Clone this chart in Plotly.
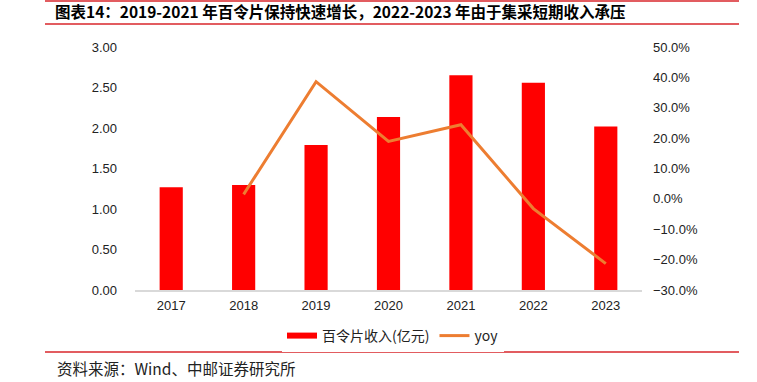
import plotly.graph_objects as go

years = ["2017", "2018", "2019", "2020", "2021", "2022", "2023"]
revenue = [1.27, 1.295, 1.79, 2.135, 2.65, 2.56, 2.02]
yoy = [None, 1.5, 38.6, 18.9, 24.4, -3.2, -21.3]

bar_name = "百令片收入(亿元)"
line_name = "yoy"
title_text = "图表14：2019-2021 年百令片保持快速增长，2022-2023 年由于集采短期收入承压"
source_text = "资料来源：Wind、中邮证券研究所"

W, H = 757, 382
L, R, T, B = 135, 757 - 642, 47, 92
pw, ph = W - L - R, H - T - B

def px_x(px):
    return (px - L) / pw

def px_y(py):
    return (H - B - py) / ph

CJK = "Noto Sans CJK SC"
LAT = "Liberation Sans, Arial"
RED_LINE = "#D9262B"

fig = go.Figure()
fig.add_trace(go.Bar(
    x=years, y=revenue, name=bar_name, marker=dict(color="#FF0000", line=dict(width=0)),
    showlegend=False, legendgroup="bar", yaxis="y",
))
fig.add_trace(go.Scatter(
    x=[None], y=[None], mode="lines", name=bar_name, legendgroup="bar",
    line=dict(color="#FF0000", width=6), yaxis="y",
))
fig.add_trace(go.Scatter(
    x=years, y=yoy, mode="lines", name=line_name,
    line=dict(color="#ED7D31", width=3), yaxis="y2", connectgaps=False,
))

fig.update_layout(
    width=W, height=H,
    margin=dict(l=L, r=R, t=T, b=B),
    paper_bgcolor="white", plot_bgcolor="white",
    bargap=0.68,
    showlegend=True,
    legend=dict(
        orientation="h", x=px_x(393), xanchor="center", y=px_y(336), yanchor="middle",
        font=dict(family=CJK, size=14, color="#222"),
        traceorder="normal",
    ),
    title=dict(
        text="<b>" + title_text + "</b>", x=55 / W, xanchor="left", xref="container",
        y=1 - 13 / H, yanchor="middle", yref="container",
        font=dict(family=CJK, size=15.5, color="#000"),
    ),
    xaxis=dict(
        type="category", showline=True, linecolor="#D9D9D9", linewidth=1.5,
        ticks="", showgrid=False, zeroline=False, ticklabelstandoff=3,
        tickfont=dict(family=LAT, size=13, color="#222"),
    ),
    yaxis=dict(
        range=[0, 3], dtick=0.5, tickformat=".2f", showgrid=False, zeroline=False,
        showline=False, ticks="", ticklabelstandoff=17,
        tickfont=dict(family=LAT, size=13, color="#222"),
    ),
    yaxis2=dict(
        range=[-30, 50], dtick=10, tickformat=".1f", ticksuffix="%", overlaying="y",
        side="right", showgrid=False, zeroline=False, showline=False, ticks="",
        ticklabelstandoff=10,
        tickfont=dict(family=LAT, size=13, color="#222"),
    ),
    shapes=[
        dict(type="line", xref="paper", yref="paper", x0=px_x(45), x1=px_x(739),
             y0=px_y(1), y1=px_y(1), line=dict(color=RED_LINE, width=1.5)),
        dict(type="line", xref="paper", yref="paper", x0=px_x(45), x1=px_x(739),
             y0=px_y(24), y1=px_y(24), line=dict(color=RED_LINE, width=1.5)),
        dict(type="line", xref="paper", yref="paper", x0=px_x(45), x1=px_x(739),
             y0=px_y(352), y1=px_y(352), line=dict(color=RED_LINE, width=1.5)),
    ],
    annotations=[
        dict(text=source_text, xref="paper", yref="paper", x=px_x(55), y=px_y(368),
             xanchor="left", yanchor="middle", showarrow=False,
             font=dict(family=CJK, size=15.5, color="#222")),
    ],
)

fig.write_html(
    "out.html",
    config={"displayModeBar": False},
    post_script="document.body.style.margin='0';document.body.style.overflow='hidden';",
)
